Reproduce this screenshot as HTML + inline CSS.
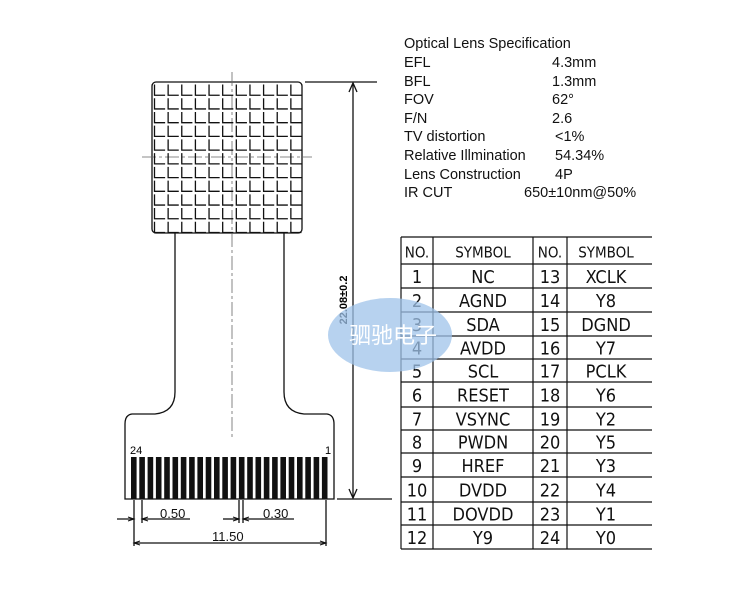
<!DOCTYPE html>
<html><head><meta charset="utf-8"><style>
html,body{margin:0;padding:0;background:#fff;width:750px;height:598px;overflow:hidden}
svg{position:absolute;left:0;top:0}
.t{font-family:"Liberation Sans",sans-serif;font-size:14.5px;fill:#111}
.c{font-family:"DejaVu Sans Condensed","Liberation Sans Narrow","Liberation Sans",sans-serif;font-size:18px;fill:#111;text-anchor:middle;font-weight:300}
</style></head><body>
<svg id="s" width="750" height="598" viewBox="0 0 750 598" xmlns="http://www.w3.org/2000/svg">
<g stroke="#111" fill="none" stroke-width="1.3">
<rect x="152" y="82" width="150" height="151" rx="4"/>
<path d="M175 233 V392 Q175 412 155 414 H132 Q125 415 125 424 V499 H334 V424 Q334 415 327 414 H304 Q284 412 284 392 V233"/>
<line x1="305" y1="82" x2="377" y2="82"/>
<line x1="337" y1="499" x2="392" y2="499"/>
<line x1="353" y1="84" x2="353" y2="497"/>
<path d="M349 92 L353 83 L357 92 M349 489 L353 498 L357 489" />
<line x1="134" y1="500" x2="134" y2="546"/>
<line x1="142" y1="500" x2="142" y2="523"/>
<line x1="239" y1="500" x2="239" y2="523"/>
<line x1="243" y1="500" x2="243" y2="523"/>
<line x1="326" y1="500" x2="326" y2="546"/>
<line x1="117" y1="519" x2="134" y2="519"/>
<line x1="142" y1="519" x2="190" y2="519"/>
<line x1="223" y1="519" x2="239" y2="519"/>
<line x1="243" y1="519" x2="294" y2="519"/>
<line x1="134" y1="543" x2="326" y2="543"/>
<path d="M128 517 L134 519 L128 521 M148 517 L142 519 L148 521 M233 517 L239 519 L233 521 M249 517 L243 519 L249 521 M140 541 L134 543 L140 545 M320 541 L326 543 L320 545" stroke-width="1"/>
</g>
<g stroke="#666" stroke-width="0.8" stroke-dasharray="14 3 3 3" fill="none">
<line x1="142" y1="157" x2="312" y2="157"/>
<line x1="232" y1="72" x2="232" y2="440"/>
</g>
<g id="grid" stroke="#111" stroke-width="1.3"></g>
<g id="pins" fill="#111"></g>
<text x="130" y="454" style="font-family:'Liberation Sans';font-size:11px">24</text>
<text x="325" y="454" style="font-family:'Liberation Sans';font-size:11px">1</text>
<text x="160" y="518" class="t" style="font-size:13px">0.50</text>
<text x="263" y="518" class="t" style="font-size:13px">0.30</text>
<text x="212" y="541" class="t" style="font-size:13px">11.50</text>
<text transform="translate(347,300) rotate(-90)" text-anchor="middle" style="font-family:'Liberation Sans';font-size:11px;font-weight:bold">22.08±0.2</text>
<g class="t">
<text x="404" y="48">Optical Lens Specification</text>
<text x="404" y="67">EFL</text><text x="552" y="67">4.3mm</text>
<text x="404" y="86">BFL</text><text x="552" y="86">1.3mm</text>
<text x="404" y="104">FOV</text><text x="552" y="104">62°</text>
<text x="404" y="123">F/N</text><text x="552" y="123">2.6</text>
<text x="404" y="141">TV distortion</text><text x="555" y="141">&lt;1%</text>
<text x="404" y="160">Relative Illmination</text><text x="555" y="160">54.34%</text>
<text x="404" y="179">Lens Construction</text><text x="555" y="179">4P</text>
<text x="404" y="197">IR CUT</text><text x="524" y="197">650±10nm@50%</text>
</g>
<g id="tbl" stroke="#111" stroke-width="1.2"></g>
<g id="tt"></g>
<ellipse cx="390" cy="335" rx="62" ry="37" fill="#9fc3ea" opacity="0.75"/>
<text x="393" y="343" text-anchor="middle" style="font-family:'Noto Sans CJK SC',sans-serif;font-size:22px;fill:#fff">驷驰电子</text>
</svg>
<script>
var NS="http://www.w3.org/2000/svg";
function el(p,n,a,txt){var e=document.createElementNS(NS,n);for(var k in a)e.setAttribute(k,a[k]);if(txt)e.textContent=txt;document.getElementById(p).appendChild(e);}
var cw=150/11,ch=151/11;
for(var i=0;i<11;i++)for(var j=0;j<11;j++){var x=152+i*cw+2.5,y=82+j*ch+2.5;
el("grid","path",{d:"M"+x+" "+y+" V"+(y+ch-3)+" H"+(x+cw-3),fill:"none"});}
for(var i=0;i<24;i++){el("pins","rect",{x:131+i*8.3,y:457,width:5.6,height:42});}
var ys=[237,264,288,312,336,359,382,407,430,453,477,502,525,549];
ys.forEach(function(y){el("tbl","line",{x1:401,y1:y,x2:652,y2:y});});
[401,433,533,567].forEach(function(x){el("tbl","line",{x1:x,y1:237,x2:x,y2:549});});
var L=["1","NC","AGND","SDA","AVDD","SCL","RESET","VSYNC","PWDN","HREF","DVDD","DOVDD","Y9"];
var R=["XCLK","Y8","DGND","Y7","PCLK","Y6","Y2","Y5","Y3","Y4","Y1","Y0"];
var hy=(237+264)/2+7;
el("tt","text",{x:417,y:hy,"class":"c","style":"font-size:15px"},"NO.");
el("tt","text",{x:483,y:hy,"class":"c","style":"font-size:15px"},"SYMBOL");
el("tt","text",{x:550,y:hy,"class":"c","style":"font-size:15px"},"NO.");
el("tt","text",{x:606,y:hy,"class":"c","style":"font-size:15px"},"SYMBOL");
for(var r=0;r<12;r++){var y=(ys[r+1]+ys[r+2])/2+7;
el("tt","text",{x:417,y:y,"class":"c"},String(r+1));
el("tt","text",{x:483,y:y,"class":"c"},L[r+1]);
el("tt","text",{x:550,y:y,"class":"c"},String(r+13));
el("tt","text",{x:606,y:y,"class":"c"},R[r]);}
</script>
</body></html>
